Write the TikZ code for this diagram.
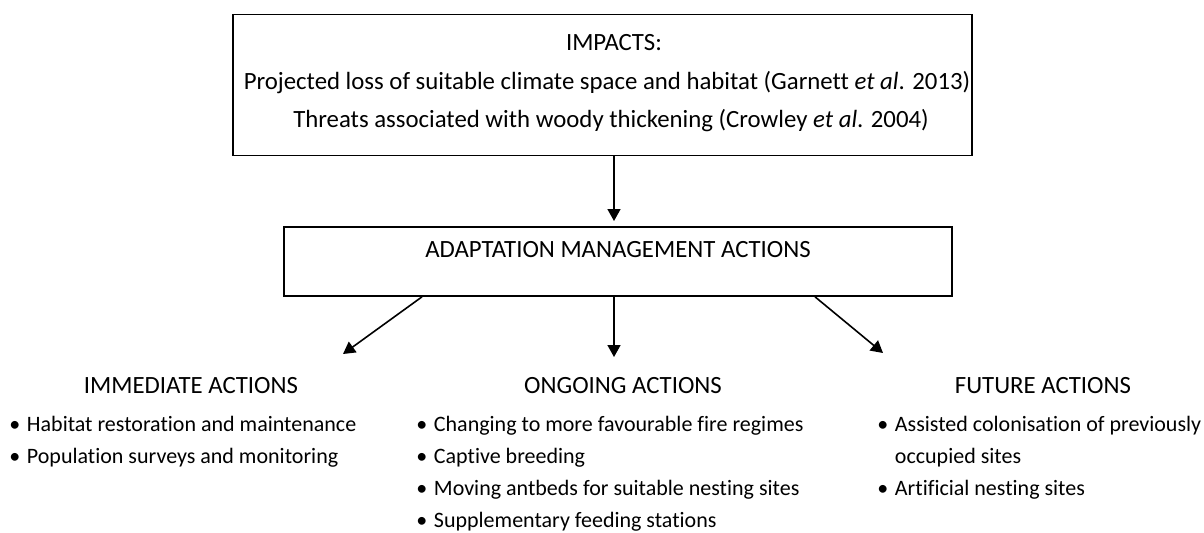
\documentclass[tikz,border=0pt]{standalone}
\usepackage{fontspec}
\setmainfont{Carlito}[Ligatures=NoCommon]
\usetikzlibrary{arrows.meta}
\tikzset{
  box/.style={draw, thick, inner sep=0pt},
  lbl/.style={inner sep=0pt, font=\fontsize{12.4}{14}\selectfont},
  lst/.style={inner sep=0pt, anchor=north west, align=left, font=\fontsize{11}{16}\selectfont},
  arr/.style={-{Triangle[length=6pt,width=6.5pt]}, thick}
}
\newcommand{\itm}{•\hspace{0.3em}}
\begin{document}
\begin{tikzpicture}[x=0.5pt,y=-0.5pt]
            \useasboundingbox (0,0) rectangle (1204,532);

            % Caja de impactos
            \node[box, minimum width=369.5pt, minimum height=70.5pt] (impacts) at (602.5,85) {};
            \node[lbl] (imp1) at (614,43) {IMPACTS:};
            \node[lbl] (imp2) at (607,83) {Projected loss of suitable climate space and habitat (Garnett \textit{et al}. 2013)};
            \node[lbl] (imp3) at (611,121) {Threats associated with woody thickening (Crowley \textit{et al}. 2004)};

            % Caja de acciones
            \node[box, minimum width=334pt, minimum height=34.5pt] (adapt) at (618,261.5) {};
            \node[lbl] (adapttxt) at (618,250) {ADAPTATION MANAGEMENT ACTIONS};

            % Puntas de flecha
            \coordinate (tipA) at (614,221);
            \coordinate (tipL) at (343,354);
            \coordinate (tipM) at (614,357);
            \coordinate (tipR) at (883,353);

            \draw[arr] (impacts.south -| tipA) -- (tipA);
            \draw[arr] (adapt.south -| 422,0) -- (tipL);
            \draw[arr] (adapt.south -| tipM) -- (tipM);
            \draw[arr] (adapt.south -| 815,0) -- (tipR);

            % Columnas
            \node[lbl] (immed) at (191,386) {IMMEDIATE ACTIONS};
            \node[lbl] (ongo) at (623,386) {ONGOING ACTIONS};
            \node[lbl] (fut) at (1043,386) {FUTURE ACTIONS};

            \node[lst] (immedlist) at (9,416) {\itm Habitat restoration and maintenance\\
              \itm Population surveys and monitoring};
            \node[lst] (ongolist) at (416,416) {\itm Changing to more favourable fire regimes\\
              \itm Captive breeding\\
              \itm Moving antbeds for suitable nesting sites\\
              \itm Supplementary feeding stations};
            \node[lst] (futlist) at (877,416) {\itm Assisted colonisation of previously\\
              \phantom{\itm}occupied sites\\
              \itm Artificial nesting sites};
        \end{tikzpicture}
\end{document}
